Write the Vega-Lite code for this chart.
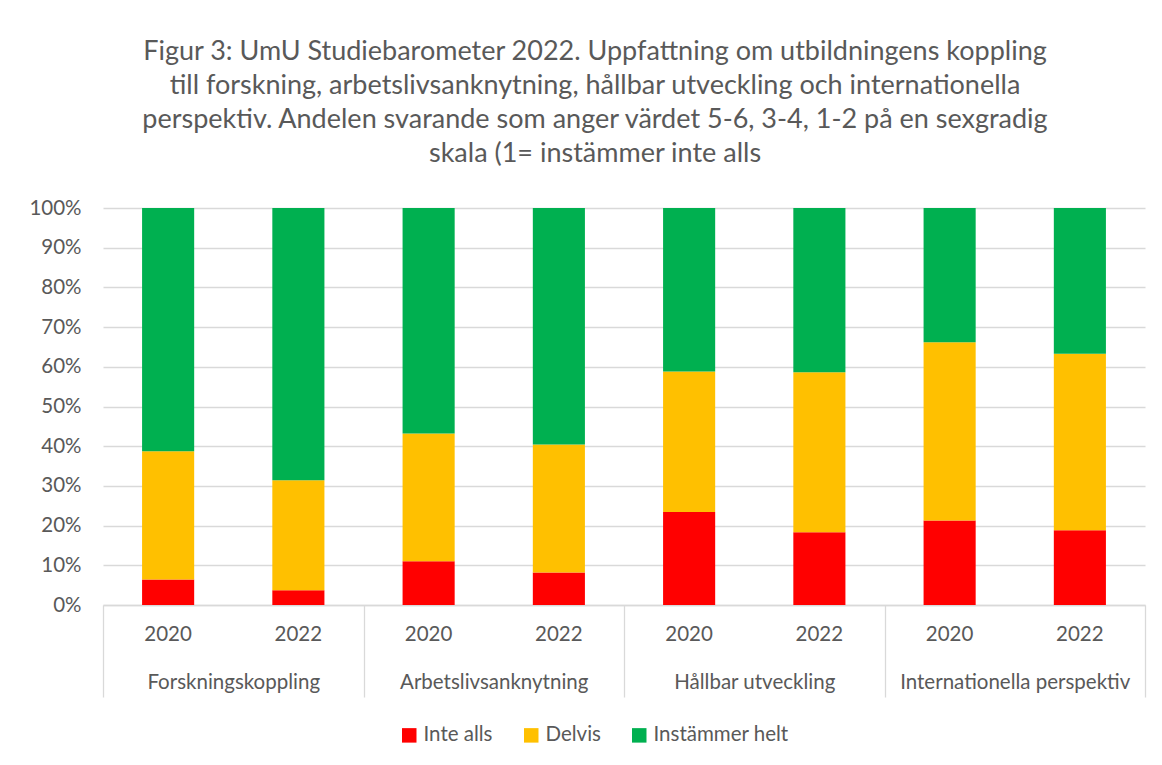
{
  "$schema": "https://vega.github.io/schema/vega-lite/v6.json",
  "width": 1042,
  "height": 397,
  "autosize": {"type": "none"},
  "padding": {"left": 103, "top": 208, "right": 17, "bottom": 160},
  "background": "white",
  "config": {
    "font": "Lato",
    "view": {"stroke": null},
    "axis": {"labelFont": "Lato", "labelColor": "#595959", "labelFontSize": 20.5}
  },
  "title": {
    "text": [
      "Figur 3: UmU Studiebarometer 2022. Uppfattning om utbildningens koppling",
      "till forskning, arbetslivsanknytning, hållbar utveckling och internationella",
      "perspektiv. Andelen svarande som anger värdet 5-6, 3-4, 1-2 på en sexgradig",
      "skala (1= instämmer inte alls"
    ],
    "font": "Lato",
    "fontSize": 27,
    "fontWeight": "normal",
    "color": "#595959",
    "lineHeight": 34,
    "anchor": "middle",
    "dx": -29,
    "offset": 30
  },
  "data": {
    "values": [
      {"omrade": "Forskningskoppling", "ar": "2020", "stapel": "Forskningskoppling 2020", "svar": "Inte alls", "andel": 6.4},
      {"omrade": "Forskningskoppling", "ar": "2020", "stapel": "Forskningskoppling 2020", "svar": "Delvis", "andel": 32.3},
      {"omrade": "Forskningskoppling", "ar": "2020", "stapel": "Forskningskoppling 2020", "svar": "Instämmer helt", "andel": 61.3},
      {"omrade": "Forskningskoppling", "ar": "2022", "stapel": "Forskningskoppling 2022", "svar": "Inte alls", "andel": 3.7},
      {"omrade": "Forskningskoppling", "ar": "2022", "stapel": "Forskningskoppling 2022", "svar": "Delvis", "andel": 27.7},
      {"omrade": "Forskningskoppling", "ar": "2022", "stapel": "Forskningskoppling 2022", "svar": "Instämmer helt", "andel": 68.6},
      {"omrade": "Arbetslivsanknytning", "ar": "2020", "stapel": "Arbetslivsanknytning 2020", "svar": "Inte alls", "andel": 11.0},
      {"omrade": "Arbetslivsanknytning", "ar": "2020", "stapel": "Arbetslivsanknytning 2020", "svar": "Delvis", "andel": 32.2},
      {"omrade": "Arbetslivsanknytning", "ar": "2020", "stapel": "Arbetslivsanknytning 2020", "svar": "Instämmer helt", "andel": 56.8},
      {"omrade": "Arbetslivsanknytning", "ar": "2022", "stapel": "Arbetslivsanknytning 2022", "svar": "Inte alls", "andel": 8.2},
      {"omrade": "Arbetslivsanknytning", "ar": "2022", "stapel": "Arbetslivsanknytning 2022", "svar": "Delvis", "andel": 32.2},
      {"omrade": "Arbetslivsanknytning", "ar": "2022", "stapel": "Arbetslivsanknytning 2022", "svar": "Instämmer helt", "andel": 59.6},
      {"omrade": "Hållbar utveckling", "ar": "2020", "stapel": "Hållbar utveckling 2020", "svar": "Inte alls", "andel": 23.4},
      {"omrade": "Hållbar utveckling", "ar": "2020", "stapel": "Hållbar utveckling 2020", "svar": "Delvis", "andel": 35.4},
      {"omrade": "Hållbar utveckling", "ar": "2020", "stapel": "Hållbar utveckling 2020", "svar": "Instämmer helt", "andel": 41.2},
      {"omrade": "Hållbar utveckling", "ar": "2022", "stapel": "Hållbar utveckling 2022", "svar": "Inte alls", "andel": 18.3},
      {"omrade": "Hållbar utveckling", "ar": "2022", "stapel": "Hållbar utveckling 2022", "svar": "Delvis", "andel": 40.3},
      {"omrade": "Hållbar utveckling", "ar": "2022", "stapel": "Hållbar utveckling 2022", "svar": "Instämmer helt", "andel": 41.4},
      {"omrade": "Internationella perspektiv", "ar": "2020", "stapel": "Internationella perspektiv 2020", "svar": "Inte alls", "andel": 21.3},
      {"omrade": "Internationella perspektiv", "ar": "2020", "stapel": "Internationella perspektiv 2020", "svar": "Delvis", "andel": 44.9},
      {"omrade": "Internationella perspektiv", "ar": "2020", "stapel": "Internationella perspektiv 2020", "svar": "Instämmer helt", "andel": 33.8},
      {"omrade": "Internationella perspektiv", "ar": "2022", "stapel": "Internationella perspektiv 2022", "svar": "Inte alls", "andel": 18.8},
      {"omrade": "Internationella perspektiv", "ar": "2022", "stapel": "Internationella perspektiv 2022", "svar": "Delvis", "andel": 44.5},
      {"omrade": "Internationella perspektiv", "ar": "2022", "stapel": "Internationella perspektiv 2022", "svar": "Instämmer helt", "andel": 36.7}
    ]
  },
  "layer": [
    {
      "transform": [
        {"calculate": "indexof(['Inte alls', 'Delvis', 'Instämmer helt'], datum.svar)", "as": "stackordning"}
      ],
      "mark": {"type": "bar"},
      "encoding": {
        "x": {
          "field": "stapel",
          "type": "nominal",
          "sort": null,
          "scale": {"paddingInner": 0.6, "paddingOuter": 0.3},
          "axis": {
            "orient": "bottom",
            "title": null,
            "domain": false,
            "ticks": false,
            "grid": false,
            "labelAngle": 0,
            "labelPadding": 19,
            "labelExpr": "slice(datum.label, -4)"
          }
        },
        "y": {
          "field": "andel",
          "type": "quantitative",
          "stack": "zero",
          "scale": {"domain": [0, 100], "nice": false},
          "axis": {
            "title": null,
            "domain": false,
            "ticks": false,
            "grid": true,
            "gridColor": "#d9d9d9",
            "gridWidth": 1.3,
            "values": [0, 10, 20, 30, 40, 50, 60, 70, 80, 90, 100],
            "labelExpr": "datum.value + '%'",
            "labelPadding": 22
          }
        },
        "color": {
          "field": "svar",
          "type": "nominal",
          "sort": ["Inte alls", "Delvis", "Instämmer helt"],
          "scale": {"domain": ["Inte alls", "Delvis", "Instämmer helt"], "range": ["#ff0000", "#ffc000", "#00b050"]},
          "legend": {
            "title": null,
            "orient": "none",
            "legendX": 296,
            "legendY": 517,
            "direction": "horizontal",
            "symbolType": "square",
            "symbolSize": 210,
            "symbolStrokeWidth": 0,
            "symbolOpacity": 1,
            "labelFont": "Lato",
            "labelFontSize": 20.5,
            "labelColor": "#595959",
            "labelOffset": 4,
            "columnPadding": 28
          }
        },
        "order": {"field": "stackordning", "type": "quantitative", "sort": "ascending"}
      }
    },
    {
      "mark": {"type": "rule", "opacity": 0},
      "encoding": {
        "x": {
          "field": "omrade",
          "type": "nominal",
          "sort": null,
          "scale": {"paddingInner": 0, "paddingOuter": 0},
          "axis": {
            "orient": "bottom",
            "title": null,
            "grid": false,
            "domain": true,
            "domainColor": "#d9d9d9",
            "domainWidth": 1.3,
            "ticks": true,
            "tickBand": "extent",
            "tickSize": 92,
            "tickColor": "#d9d9d9",
            "tickWidth": 1.3,
            "labelAngle": 0,
            "labelPadding": -25,
            "labelBaseline": "top",
            "labelLimit": 0
          }
        }
      }
    }
  ],
  "resolve": {"scale": {"x": "independent"}, "axis": {"x": "independent"}}
}
